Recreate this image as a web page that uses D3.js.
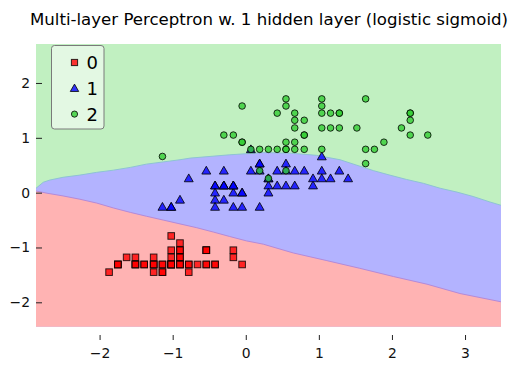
<!DOCTYPE html>
<html>
<head>
<meta charset="utf-8">
<script src="https://cdn.jsdelivr.net/npm/d3@7"></script>
<style>
  body { margin: 0; background: #fff; }
  svg { font-family: "DejaVu Sans", sans-serif; }
</style>
</head>
<body>
<div id="chart"></div>
<script>
// Iris: standardized sepal length (x) vs petal width (y), per class
const class0X = [-0.90,-1.14,-1.39,-1.51,-1.02,-0.54,-1.51,-1.02,-1.75,-1.14,-0.54,-1.26,-1.26,-1.87,-0.05,-0.17,-0.54,-0.90,-0.17,-0.90,-0.54,-0.90,-1.51,-0.90,-1.26,-1.02,-1.02,-0.78,-0.78,-1.39,-1.26,-0.54,-0.78,-0.42,-1.14,-1.02,-0.42,-1.14,-1.75,-0.90,-1.02,-1.63,-1.75,-1.02,-0.90,-1.26,-0.90,-1.51,-0.66,-1.02];
const class0Y = [-1.31,-1.31,-1.31,-1.31,-1.31,-1.05,-1.18,-1.31,-1.31,-1.45,-1.31,-1.31,-1.45,-1.45,-1.31,-1.05,-1.05,-1.18,-1.18,-1.18,-1.31,-1.05,-1.31,-0.92,-1.31,-1.31,-1.05,-1.31,-1.31,-1.31,-1.31,-1.05,-1.45,-1.31,-1.31,-1.31,-1.31,-1.45,-1.31,-1.31,-1.18,-1.18,-1.31,-0.79,-1.05,-1.18,-1.31,-1.31,-1.31,-1.31];
const class1X = [1.40,0.67,1.28,-0.42,0.80,-0.17,0.55,-1.14,0.92,-0.78,-1.02,0.07,0.19,0.31,-0.30,1.04,-0.30,-0.05,0.43,-0.30,0.07,0.31,0.55,0.31,0.67,0.92,1.16,1.04,0.19,-0.17,-0.42,-0.42,-0.05,0.19,-0.54,0.19,1.04,0.55,-0.30,-0.42,-0.42,0.31,-0.05,-1.02,-0.30,-0.17,-0.17,0.43,-0.90,-0.17];
const class1Y = [0.26,0.40,0.40,0.13,0.40,0.13,0.53,-0.26,0.13,0.26,-0.26,0.40,-0.26,0.26,0.13,0.26,0.40,-0.26,0.40,-0.13,0.79,0.13,0.40,0.00,0.13,0.26,0.26,0.66,0.40,-0.26,-0.13,-0.26,0.00,0.53,0.40,0.53,0.40,0.13,0.13,0.13,0.00,0.26,0.00,-0.26,0.13,0.00,0.13,0.13,-0.13,0.13];
const class2X = [0.55,-0.05,1.52,0.55,0.80,2.13,-1.14,1.76,1.04,1.64,0.80,0.67,1.16,-0.17,-0.05,0.67,0.80,2.25,2.25,0.19,1.28,-0.30,2.25,0.55,1.04,1.64,0.43,0.31,0.67,1.64,1.89,2.49,0.67,0.55,0.31,2.25,0.55,0.67,0.19,1.28,1.04,1.28,-0.05,1.16,1.04,1.04,0.55,0.80,0.43,0.07];
const class2Y = [1.71,0.92,1.18,0.79,1.32,1.18,0.66,0.79,0.79,1.71,1.05,0.92,1.18,1.05,1.58,1.45,0.79,1.32,1.45,0.40,1.45,1.05,1.05,0.79,1.18,0.79,0.79,0.79,1.18,0.53,0.92,1.05,1.32,0.40,0.26,1.45,1.58,0.79,0.79,1.18,1.58,1.45,0.92,1.45,1.71,1.45,0.92,1.05,1.45,0.79];

// decision boundaries
const upperBoundX = [-2.87,-2.77,-2.68,-2.50,-2.27,-2.04,-1.81,-1.58,-1.36,-1.13,-0.90,-0.76,-0.22,0.24,0.61,0.97,1.29,1.52,1.75,1.97,2.20,2.43,2.66,2.89,3.11,3.34,3.49];
const upperBoundY = [0.08,0.19,0.23,0.28,0.32,0.37,0.41,0.46,0.52,0.56,0.60,0.63,0.69,0.73,0.72,0.68,0.60,0.50,0.40,0.32,0.24,0.17,0.08,0.01,-0.07,-0.17,-0.23];
const lowerBoundX = [-2.87,-2.72,-2.50,-2.27,-2.04,-1.81,-1.58,-1.36,-1.13,-0.90,-0.67,-0.44,-0.22,0.01,0.24,0.65,1.11,1.56,2.02,2.48,2.93,3.49];
const lowerBoundY = [0.03,-0.01,-0.06,-0.12,-0.19,-0.28,-0.36,-0.43,-0.50,-0.57,-0.64,-0.72,-0.80,-0.88,-0.94,-1.10,-1.24,-1.38,-1.53,-1.67,-1.84,-1.99];

const classLabels = ['0', '1', '2'];
const xTicks = [-2, -1, 0, 1, 2, 3];
const yTicks = [-2, -1, 0, 1, 2];
const xDomain = [-2.87, 3.492], yDomain = [-2.445, 2.711];

const width = 519, height = 370;
const plot = {left: 36, right: 501, top: 44, bottom: 326.7};

const svg = d3.select('#chart').append('svg')
  .attr('width', width)
  .attr('height', height);

const xScale = d3.scaleLinear().domain(xDomain).range([plot.left, plot.right]);
const yScale = d3.scaleLinear().domain(yDomain).range([plot.bottom, plot.top]);

// region colours (class colour at alpha 0.3 over white)
const regionFill = ['#ffb3b3', '#b3b3ff', '#c1f0c1'];
const markerFill = ['#ff0000', '#0000ff', '#32cd32'];

svg.append('rect')
  .attr('x', plot.left).attr('y', plot.top)
  .attr('width', plot.right - plot.left).attr('height', plot.bottom - plot.top)
  .attr('fill', regionFill[1]);

const line = d3.line().x(d => xScale(d[0])).y(d => yScale(d[1]));
const upper = upperBoundX.map((x, i) => [x, upperBoundY[i]]);
const lower = lowerBoundX.map((x, i) => [x, lowerBoundY[i]]);

svg.append('path')
  .attr('d', line(upper.concat([[xDomain[1], yDomain[1]], [xDomain[0], yDomain[1]]])) + 'Z')
  .attr('fill', regionFill[2]);
svg.append('path')
  .attr('d', line(lower.concat([[xDomain[1], yDomain[0]], [xDomain[0], yDomain[0]]])) + 'Z')
  .attr('fill', regionFill[0]);

svg.append('path').attr('d', line(upper))
  .attr('fill', 'none').attr('stroke', '#8ec3d4').attr('stroke-width', 1);
svg.append('path').attr('d', line(lower))
  .attr('fill', 'none').attr('stroke', '#b48ad8').attr('stroke-width', 1);

// axes
const fmt = d3.format('d');
const yAxis = svg.append('g')
  .attr('transform', `translate(${plot.left},0)`)
  .call(d3.axisLeft(yScale).tickValues(yTicks).tickFormat(fmt).tickSize(-6).tickPadding(6));
const xAxis = svg.append('g')
  .attr('transform', 'translate(0,335)')
  .call(d3.axisBottom(xScale).tickValues(xTicks).tickFormat(fmt).tickSize(5).tickPadding(8));
[xAxis, yAxis].forEach(g => {
  g.select('.domain').remove();
  g.selectAll('line').attr('stroke', '#222');
  g.selectAll('text').attr('font-size', 13.9).attr('fill', '#111')
    .attr('font-family', '"DejaVu Sans", sans-serif');
});

// markers
function drawMarker(sel, cls, size) {
  const h = size / 2;
  if (cls === 0) {
    sel.append('rect').attr('x', -h).attr('y', -h).attr('width', size).attr('height', size);
  } else if (cls === 1) {
    const t = size * 0.6;
    sel.append('path').attr('d', `M0,${-t - 0.5}L${t + 0.5},${t * 0.85}L${-t - 0.5},${t * 0.85}Z`);
  } else {
    sel.append('circle').attr('r', h);
  }
  sel.attr('fill', markerFill[cls]).attr('fill-opacity', 0.8)
    .attr('stroke', '#000').attr('stroke-opacity', 0.8).attr('stroke-width', 1);
}

const classes = [[class0X, class0Y], [class1X, class1Y], [class2X, class2Y]];
classes.forEach(([xs, ys], cls) => {
  svg.append('g').selectAll('g')
    .data(xs.map((x, i) => [x, ys[i]]))
    .enter().append('g')
    .attr('transform', d => `translate(${xScale(d[0])},${yScale(d[1])})`)
    .each(function() { drawMarker(d3.select(this), cls, 6.6); });
});

// legend
svg.append('rect')
  .attr('x', 51.5).attr('y', 45.5).attr('width', 52.5).attr('height', 83.5)
  .attr('rx', 3).attr('ry', 3)
  .attr('fill', '#fff').attr('fill-opacity', 0.55)
  .attr('stroke', '#7a7a7a').attr('stroke-width', 1);
const legendRows = svg.append('g').selectAll('g')
  .data(classLabels)
  .enter().append('g')
  .attr('transform', (d, i) => `translate(74.5,${62.5 + i * 25.8})`);
legendRows.each(function(d, i) {
  drawMarker(d3.select(this).append('g'), i, 6.2);
});
legendRows.append('text')
  .attr('x', 12).attr('y', 6.5)
  .attr('font-size', 18)
  .attr('fill', '#000')
  .text(d => d);

// title
svg.append('text')
  .attr('x', 269).attr('y', 24.5)
  .attr('text-anchor', 'middle')
  .attr('font-size', 16.6)
  .attr('fill', '#000')
  .text('Multi-layer Perceptron w. 1 hidden layer (logistic sigmoid)');
</script>
</body>
</html>
